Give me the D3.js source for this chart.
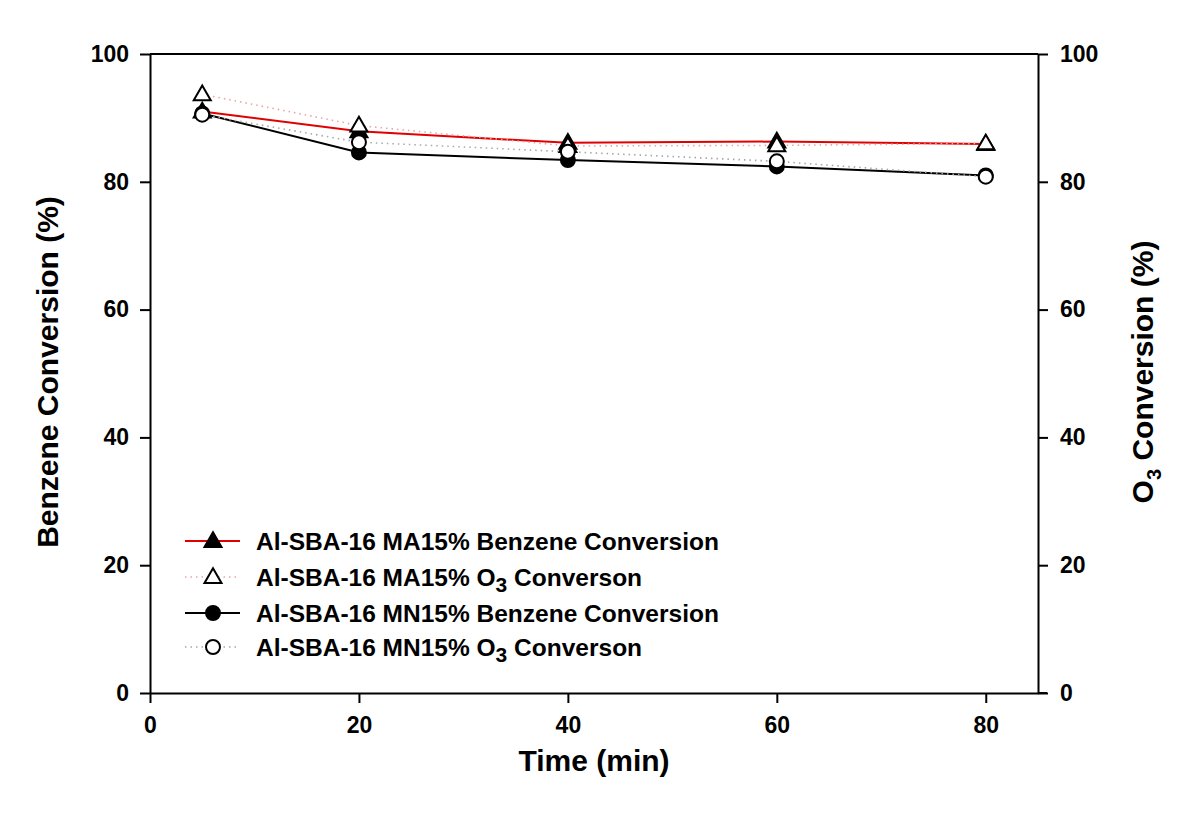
<!DOCTYPE html>
<html><head><meta charset="utf-8">
<script src="https://cdn.jsdelivr.net/npm/d3@7"></script>
<style>body{margin:0;background:#fff}svg{display:block;font-family:"Liberation Sans",Arial,sans-serif;font-weight:bold}</style>
</head><body><svg id="c" width="1200" height="829"></svg>
<script>
const times = [5, 20, 40, 60, 80];
const maBenzene = [91.0, 87.9, 86.1, 86.3, 85.9];
const maO3 = [93.7, 88.8, 85.6, 85.7, 86.0];
const mnBenzene = [90.7, 84.6, 83.4, 82.4, 81.0];
const mnO3 = [90.5, 86.2, 84.7, 83.2, 80.8];
const xTicks = [0, 20, 40, 60, 80];
const yTicks = [0, 20, 40, 60, 80, 100];
const legendLabels = ["Al-SBA-16 MA15% Benzene Conversion", "Al-SBA-16 MA15% O|3| Converson", "Al-SBA-16 MN15% Benzene Conversion", "Al-SBA-16 MN15% O|3| Converson"];

const svg = d3.select("#c");
const L = 150, R = 1038, T = 54, B = 693;
const x = d3.scaleLinear().domain([0, 85]).range([L, R]);
const y = d3.scaleLinear().domain([0, 100]).range([B, T]);

svg.append("line").attr("x1", L).attr("x2", R).attr("y1", T).attr("y2", T).attr("stroke", "#000").attr("stroke-width", 2);

const fs = "23px";
const ax = svg.append("g").attr("transform", `translate(0,${B})`).call(d3.axisBottom(x).tickValues(xTicks).tickSize(10).tickPadding(14).tickSizeOuter(0));
const ay = svg.append("g").attr("transform", `translate(${L},0)`).call(d3.axisLeft(y).tickValues(yTicks).tickSize(10).tickPadding(11).tickSizeOuter(0));
const ay2 = svg.append("g").attr("transform", `translate(${R},0)`).call(d3.axisRight(y).tickValues(yTicks).tickSize(10).tickPadding(12).tickSizeOuter(0));
[ax, ay, ay2].forEach(g => {
  g.select(".domain").attr("stroke-width", 2);
  g.selectAll(".tick line").attr("stroke-width", 2);
  g.selectAll("text").attr("font-size", fs).attr("font-weight", "bold").attr("font-family", "Liberation Sans, Arial, sans-serif").attr("fill", "#000");
});
svg.append("line").attr("x1", R).attr("x2", R + 9).attr("y1", B).attr("y2", B).attr("stroke", "#000").attr("stroke-width", 2);

svg.append("text").attr("x", 594).attr("y", 771).attr("text-anchor", "middle").attr("font-size", "30px").text("Time (min)");
svg.append("text").attr("transform", "translate(58,372) rotate(-90)").attr("text-anchor", "middle").attr("font-size", "30px").text("Benzene Conversion (%)");
const rt = svg.append("text").attr("transform", "translate(1153,372) rotate(-90)").attr("text-anchor", "middle").attr("font-size", "30px");
rt.append("tspan").text("O");
rt.append("tspan").attr("font-size", "20px").attr("dy", 8).text("3");
rt.append("tspan").attr("dy", -8).text(" Conversion (%)");

const series = [
  {vals: maBenzene, stroke: "#e00000", dash: null, sw: 2, marker: "tri", fill: "#000"},
  {vals: maO3, stroke: "#e9a4a4", dash: "1.5,4", sw: 1.6, marker: "tri", fill: "#fff"},
  {vals: mnBenzene, stroke: "#000", dash: null, sw: 2, marker: "circ", fill: "#000"},
  {vals: mnO3, stroke: "#a8a8a8", dash: "1.5,4", sw: 1.6, marker: "circ", fill: "#fff"}
];
const triSym = d3.symbol().type(d3.symbolTriangle).size(125);
const line = d3.line().x((d, i) => x(times[i])).y(d => y(d));
function drawMarker(g, kind, fill, cx, cy) {
  if (kind === "tri") {
    g.append("path").attr("d", triSym()).attr("transform", `translate(${cx},${cy + 1})`).attr("fill", fill).attr("stroke", "#000").attr("stroke-width", 2);
  } else {
    g.append("circle").attr("cx", cx).attr("cy", cy).attr("r", 7).attr("fill", fill).attr("stroke", "#000").attr("stroke-width", 2);
  }
}
series.forEach(s => {
  svg.append("path").datum(s.vals).attr("d", line).attr("fill", "none").attr("stroke", s.stroke).attr("stroke-width", s.sw).attr("stroke-dasharray", s.dash);
});
series.forEach(s => {
  const g = svg.append("g");
  s.vals.forEach((v, i) => drawMarker(g, s.marker, s.fill, x(times[i]), y(v)));
});

const rowsY = [541, 577, 613, 647];
series.forEach((s, i) => {
  const g = svg.append("g");
  const yy = rowsY[i];
  g.append("line").attr("x1", 185).attr("x2", 240).attr("y1", yy).attr("y2", yy).attr("stroke", s.stroke).attr("stroke-width", s.sw).attr("stroke-dasharray", s.dash);
  drawMarker(g, s.marker, s.fill, 213, yy);
  const t = g.append("text").attr("x", 256).attr("y", yy + 9).attr("font-size", "24.5px");
  const parts = legendLabels[i].split("|");
  t.append("tspan").text(parts[0]);
  if (parts.length > 1) {
    t.append("tspan").attr("font-size", "21px").attr("dy", 6).text(parts[1]);
    t.append("tspan").attr("dy", -6).text(parts[2]);
  }
});
</script></body></html>
